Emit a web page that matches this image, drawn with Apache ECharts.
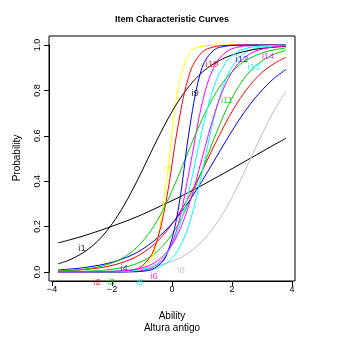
<!DOCTYPE html>
<html>
<head>
<meta charset="utf-8">
<script src="https://cdn.jsdelivr.net/npm/echarts@6/dist/echarts.min.js"></script>
<style>
html, body { margin: 0; padding: 0; background: #fff; }
#main { width: 352px; height: 352px; }
</style>
</head>
<body>
<div id="main"></div>
<script>
var abilityGrid = [-3.8, -3.4, -3.0, -2.6, -2.2, -1.8, -1.4, -1.0, -0.6, -0.2, 0.2, 0.6, 1.0, 1.4, 1.8, 2.2, 2.6, 3.0, 3.4, 3.8];

var i1 = [0.128, 0.142, 0.157, 0.174, 0.192, 0.211, 0.231, 0.253, 0.277, 0.302, 0.327, 0.354, 0.382, 0.411, 0.440, 0.470, 0.500, 0.530, 0.560, 0.589];
var i2 = [0.004, 0.006, 0.010, 0.015, 0.023, 0.036, 0.054, 0.082, 0.121, 0.177, 0.250, 0.341, 0.445, 0.555, 0.659, 0.750, 0.823, 0.879, 0.918, 0.946];
var i3 = [0.001, 0.002, 0.003, 0.005, 0.009, 0.016, 0.027, 0.047, 0.079, 0.131, 0.209, 0.316, 0.448, 0.587, 0.713, 0.813, 0.884, 0.930, 0.959, 0.976];
var i4 = [0.009, 0.013, 0.018, 0.026, 0.036, 0.051, 0.071, 0.099, 0.137, 0.185, 0.245, 0.318, 0.400, 0.489, 0.578, 0.663, 0.738, 0.801, 0.853, 0.892];
var i5 = [0, 0, 0, 0.0001, 0.0003, 0.0007, 0.002, 0.005, 0.014, 0.037, 0.095, 0.223, 0.438, 0.679, 0.852, 0.940, 0.977, 0.991, 0.997, 0.999];
var i6 = [0, 0, 0, 0, 0.0002, 0.0006, 0.002, 0.007, 0.023, 0.072, 0.206, 0.463, 0.741, 0.905, 0.969, 0.991, 0.997, 0.999, 1, 1];
var i7 = [0, 0, 0, 0, 0, 0.0003, 0.002, 0.013, 0.083, 0.382, 0.808, 0.966, 0.995, 0.999, 1, 1, 1, 1, 1, 1];
var i8 = [0.0006, 0.001, 0.0016, 0.0025, 0.0039, 0.0062, 0.0098, 0.015, 0.024, 0.038, 0.058, 0.089, 0.135, 0.198, 0.281, 0.382, 0.494, 0.608, 0.710, 0.795];
var i9 = [0.036, 0.054, 0.082, 0.121, 0.177, 0.250, 0.341, 0.445, 0.555, 0.659, 0.750, 0.823, 0.879, 0.918, 0.946, 0.964, 0.977, 0.985, 0.990, 0.994];
var i10 = [0, 0, 0, 0.0001, 0.0004, 0.0017, 0.0066, 0.026, 0.099, 0.309, 0.644, 0.880, 0.968, 0.992, 0.998, 1, 1, 1, 1, 1];
var i11 = [0.004, 0.007, 0.011, 0.019, 0.031, 0.051, 0.083, 0.132, 0.203, 0.300, 0.419, 0.549, 0.672, 0.775, 0.853, 0.907, 0.942, 0.965, 0.979, 0.987];
var i12 = [0, 0, 0, 0, 0, 0, 0.0006, 0.003, 0.015, 0.069, 0.269, 0.646, 0.900, 0.978, 0.995, 0.999, 1, 1, 1, 1];
var i13 = [0, 0, 0, 0.0002, 0.0006, 0.0015, 0.004, 0.011, 0.029, 0.076, 0.182, 0.378, 0.622, 0.818, 0.924, 0.971, 0.989, 0.996, 0.998, 1];
var i14 = [0.0001, 0.0002, 0.0003, 0.0007, 0.0017, 0.0037, 0.008, 0.018, 0.039, 0.083, 0.168, 0.310, 0.500, 0.690, 0.832, 0.917, 0.961, 0.982, 0.992, 0.996];

var itemNames = ["i1", "i2", "i3", "i4", "i5", "i6", "i7", "i8", "i9", "i10", "i11", "i12", "i13", "i14"];
var itemCurves = [i1, i2, i3, i4, i5, i6, i7, i8, i9, i10, i11, i12, i13, i14];
// R palette order
var itemColors = ["#000000", "#FF0000", "#00CD00", "#0000FF", "#00FFFF", "#FF00FF", "#FFFF00", "#BEBEBE",
                  "#000000", "#FF0000", "#00CD00", "#0000FF", "#00FFFF", "#FF00FF"];
// where the item names sit (ability, probability)
var labelAbility = [-3.0, -2.5, -2.03, -1.6, -1.07, -0.6, -0.15, 0.3, 0.77, 1.33, 1.83, 2.33, 2.73, 3.2];
var labelProb = [0.106, -0.044, -0.044, 0.018, -0.044, -0.018, 0.45, 0.009, 0.786, 0.914, 0.755, 0.936, 0.90, 0.949];

var xTicks = [-4, -2, 0, 2, 4];
var yTicks = [0, 0.2, 0.4, 0.6, 0.8, 1];

var chart = echarts.init(document.getElementById("main"));
var font = "Liberation Sans, Arial, sans-serif";

var series = [];
for (var k = 0; k < itemCurves.length; k++)
{
    var pts = [];
    for (var j = 0; j < abilityGrid.length; j++)
        pts.push([abilityGrid[j], itemCurves[k][j]]);
    series.push({
        name: itemNames[k],
        type: "line",
        data: pts,
        showSymbol: false,
        smooth: 0.35,
        clip: false,
        silent: true,
        lineStyle: { color: itemColors[k], width: 1 }
    });
}

var labelData = [];
for (var k = 0; k < itemNames.length; k++)
{
    labelData.push({
        name: itemNames[k],
        value: [labelAbility[k], labelProb[k]],
        label: { color: itemColors[k] }
    });
}
series.push({
    type: "scatter",
    data: labelData,
    symbolSize: 1,
    clip: false,
    silent: true,
    itemStyle: { color: "transparent" },
    label: {
        show: true,
        position: "inside",
        formatter: "{b}",
        fontFamily: font,
        fontSize: 9.5
    },
    z: 5
});

var option = {
    animation: false,
    backgroundColor: "#ffffff",
    grid: { left: 52, right: 60, top: 45, bottom: 80 },
    xAxis: {
        type: "value",
        min: xTicks[0],
        max: xTicks[xTicks.length - 1],
        interval: 2,
        offset: 9,
        axisLine: { show: true, onZero: false, lineStyle: { color: "#000", width: 1 } },
        axisTick: { show: true, length: 5, lineStyle: { color: "#000" } },
        axisLabel: {
            color: "#000", fontFamily: font, fontSize: 9, margin: 4,
            formatter: function (v) { return v < 0 ? "\u2212" + Math.abs(v) : String(v); }
        },
        splitLine: { show: false }
    },
    yAxis: {
        type: "value",
        min: yTicks[0],
        max: yTicks[yTicks.length - 1],
        interval: 0.2,
        offset: 3,
        axisLine: { show: true, onZero: false, lineStyle: { color: "#000", width: 1 } },
        axisTick: { show: true, length: 5, lineStyle: { color: "#000" } },
        axisLabel: {
            color: "#000", fontFamily: font, fontSize: 9, margin: 7, rotate: 90,
            formatter: function (v) { return v.toFixed(1); }
        },
        splitLine: { show: false }
    },
    graphic: [
        {
            type: "rect",
            shape: { x: 49, y: 36, width: 246, height: 245 },
            style: { fill: null, stroke: "#000", lineWidth: 1 },
            silent: true
        },
        {
            type: "text", x: 172, y: 20,
            style: { text: "Item Characteristic Curves", font: "bold 9px " + font, fill: "#000", textAlign: "center", textVerticalAlign: "middle" }
        },
        {
            type: "text", x: 172, y: 316,
            style: { text: "Ability", font: "10px " + font, fill: "#000", textAlign: "center", textVerticalAlign: "middle" }
        },
        {
            type: "text", x: 172, y: 328,
            style: { text: "Altura antigo", font: "10px " + font, fill: "#000", textAlign: "center", textVerticalAlign: "middle" }
        },
        {
            type: "text", x: 17, y: 158, rotation: Math.PI / 2,
            style: { text: "Probability", font: "10px " + font, fill: "#000", textAlign: "center", textVerticalAlign: "middle" }
        }
    ],
    series: series
};
chart.setOption(option);
</script>
</body>
</html>
